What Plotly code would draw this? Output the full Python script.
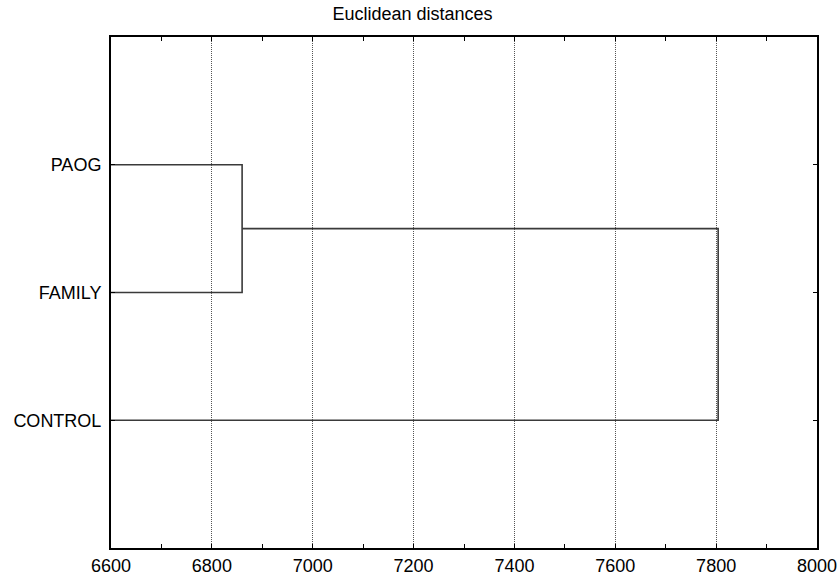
import plotly.graph_objects as go

# ---- data ----
leaf_labels = ["PAOG", "FAMILY", "CONTROL"]
leaf_positions = [1, 2, 3]
# linkage: (cluster a, cluster b, linkage distance); clusters 0..2 are leaves, 3.. are merges
merge_a = [0, 3]
merge_b = [1, 2]
merge_dist = [6860, 7804]
x_ticks = [6600, 6800, 7000, 7200, 7400, 7600, 7800, 8000]

# ---- build dendrogram segments ----
pos = {i: p for i, p in enumerate(leaf_positions)}
height = {i: 0 for i in range(len(leaf_labels))}
xs, ys = [], []
n = len(leaf_labels)
for k, (a, b, d) in enumerate(zip(merge_a, merge_b, merge_dist)):
    xs += [height[a], d, d, height[b], None]
    ys += [pos[a], pos[a], pos[b], pos[b], None]
    pos[n + k] = (pos[a] + pos[b]) / 2
    height[n + k] = d

FONT = "Liberation Sans, Arial, sans-serif"
FS = 18
W, H = 838, 581
fig = go.Figure()
fig.add_trace(go.Scatter(x=xs, y=ys, mode="lines",
                         line=dict(color="#3a3a3a", width=1.6),
                         hoverinfo="skip", showlegend=False))

fig.update_layout(
    width=W, height=H,
    margin=dict(l=111, r=21, t=37, b=33, pad=0),
    paper_bgcolor="white", plot_bgcolor="white",
    font=dict(family=FONT, size=FS, color="black"),
    title=dict(text="Euclidean distances", x=0.427, xref="paper", xanchor="center",
               y=1 - 14 / H, yref="container", yanchor="middle",
               font=dict(family=FONT, size=FS, color="black")),
    xaxis=dict(range=[6600, 8000], tickvals=x_ticks, ticks="inside", ticklen=4,
               tickcolor="black", tickwidth=1, automargin=False,
               showgrid=True, gridcolor="#555", griddash="1px,1px", gridwidth=1,
               minor=dict(dtick=100, ticks="inside", ticklen=4, tickcolor="black", showgrid=False),
               showline=True, linecolor="black", linewidth=2, mirror="allticks",
               zeroline=False, fixedrange=True),
    yaxis=dict(range=[4, 0], tickvals=leaf_positions, ticktext=leaf_labels,
               ticks="inside", ticklen=4, tickcolor="black", automargin=False,
               ticklabelstandoff=4,
               showgrid=False, showline=True, linecolor="black", linewidth=2,
               mirror="allticks", zeroline=False, fixedrange=True),
)

fig.write_html("out.html",
               config={"displayModeBar": False},
               post_script="document.body.style.margin='0';document.body.style.overflow='hidden';")
